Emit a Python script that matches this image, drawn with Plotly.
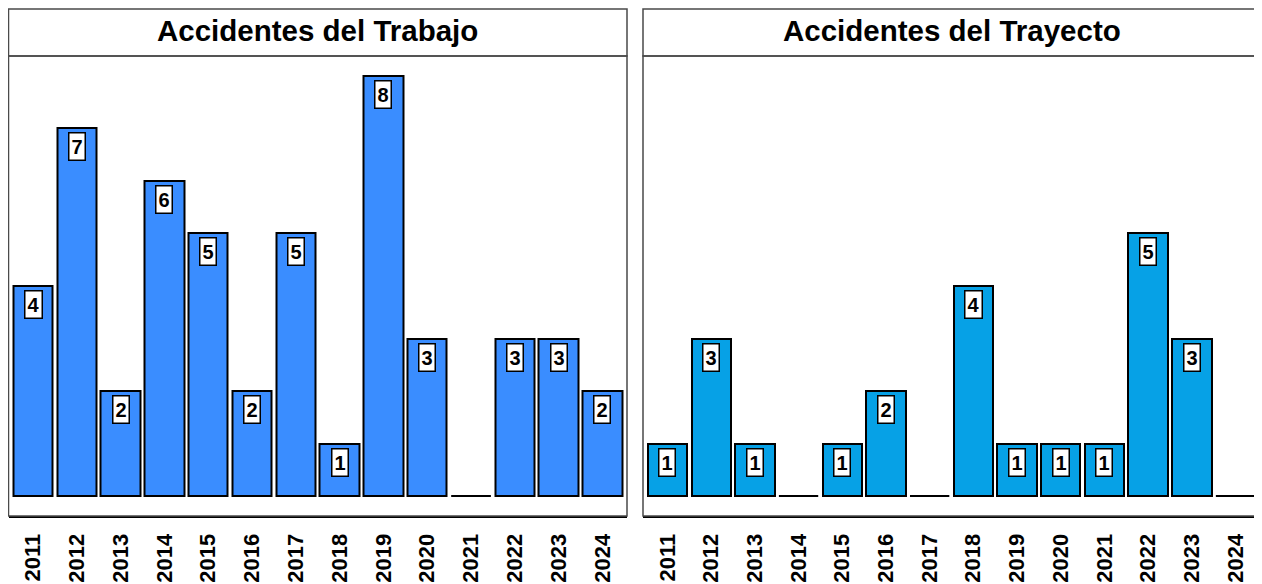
import plotly.graph_objects as go

years = ["2011", "2012", "2013", "2014", "2015", "2016", "2017",
         "2018", "2019", "2020", "2021", "2022", "2023", "2024"]
trabajo = [4, 7, 2, 6, 5, 2, 5, 1, 8, 3, 0, 3, 3, 2]
trayecto = [1, 3, 1, 0, 1, 2, 0, 4, 1, 1, 1, 5, 3, 0]
titles = ["Accidentes del Trabajo", "Accidentes del Trayecto"]
colors = ["#3A8DFF", "#06A1E6"]

W, H = 1262, 584
OFF = 8  # page body margin
FONT = "Liberation Sans, Arial, sans-serif"
BAR_W = 0.9


def px(v):
    return (v - OFF) / W


def py(v):
    return (H - (v - OFF)) / H


panels_x = [(px(8.5), px(627)), (px(643), px(1260))]
py0, py1 = py(516), py(56)
sy1 = py(9)

fig = go.Figure()
xs = list(range(len(years)))

for k, (vals, col) in enumerate(zip([trabajo, trayecto], colors)):
    xa = "x" if k == 0 else "x2"
    ya = "y" if k == 0 else "y2"
    fig.add_trace(go.Bar(
        x=xs, y=vals, width=BAR_W, marker=dict(color=col, line=dict(color="black", width=2)),
        xaxis=xa, yaxis=ya, showlegend=False, hoverinfo="x+y"))
    # zero-height bars drawn as their outline
    zx, zy = [], []
    for i, v in enumerate(vals):
        if v == 0:
            zx += [i - BAR_W / 2, i + BAR_W / 2, None]
            zy += [0, 0, None]
    if zx:
        fig.add_trace(go.Scatter(x=zx, y=zy, mode="lines", line=dict(color="black", width=2),
                                 xaxis=xa, yaxis=ya, showlegend=False, hoverinfo="skip"))
    for i, v in enumerate(vals):
        if v > 0:
            fig.add_annotation(x=i, y=v, xref=xa, yref=ya, text="<b>%d</b>" % v,
                               showarrow=False, yanchor="top", yshift=-4,
                               font=dict(family=FONT, size=20, color="black"),
                               bgcolor="white", bordercolor="black", borderwidth=1.5, borderpad=2)
    axis_x = dict(domain=list(panels_x[k]), range=[-0.56, len(years) - 0.44],
                  tickmode="array", tickvals=xs, ticktext=["<b>%s</b>" % y for y in years],
                  tickangle=-90, tickfont=dict(family=FONT, size=22, color="black"),
                  showline=True, linecolor="black", linewidth=2, showgrid=False,
                  zeroline=False, ticks="", ticklabelstandoff=7, anchor=ya, fixedrange=True)
    axis_y = dict(domain=[py0, py1], range=[-0.38, 8.38], showgrid=False, zeroline=False,
                  showticklabels=False, ticks="", showline=False, anchor=xa, fixedrange=True)
    if k == 0:
        fig.update_layout(xaxis=axis_x, yaxis=axis_y)
    else:
        fig.update_layout(xaxis2=axis_x, yaxis2=axis_y)
    # panel border
    fig.add_shape(type="rect", xref="paper", yref="paper",
                  x0=panels_x[k][0], x1=panels_x[k][1], y0=py0, y1=py1,
                  line=dict(color="#4a4a4a", width=1.5), layer="above")
    # strip
    fig.add_shape(type="rect", xref="paper", yref="paper",
                  x0=panels_x[k][0], x1=panels_x[k][1], y0=py1, y1=sy1,
                  line=dict(color="#4a4a4a", width=1.5), fillcolor="white", layer="below")
    fig.add_annotation(x=(panels_x[k][0] + panels_x[k][1]) / 2, y=py(31),
                       xref="paper", yref="paper", text="<b>%s</b>" % titles[k],
                       showarrow=False, font=dict(family=FONT, size=29.5, color="black"),
                       xanchor="center", yanchor="middle")

fig.update_layout(width=W, height=H, margin=dict(l=0, r=0, t=0, b=0),
                  paper_bgcolor="white", plot_bgcolor="white", bargap=0)
fig.write_html("out.html")
